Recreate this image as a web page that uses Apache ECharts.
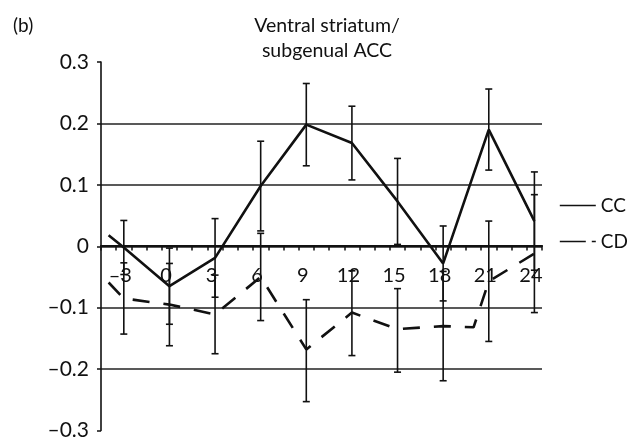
<!DOCTYPE html>
<html>
<head>
<meta charset="utf-8">
<script src="https://cdn.jsdelivr.net/npm/echarts@6/dist/echarts.min.js"></script>
<style>
html,body{margin:0;padding:0;background:#fff;}
#chart{width:628px;height:441px;}
</style>
</head>
<body>
<div id="chart"></div>
<script>
// x positions (weeks) of the plotted line points
const ccX = [-4, -3, 0, 3, 6, 9, 12, 15, 18, 21, 24];
const ccValues = [0.018, -0.002, -0.065, -0.019, 0.098, 0.198, 0.168, 0.073, -0.028, 0.19, 0.041];
const cdX = [-4, -3, 0, 3, 6, 9, 12, 15, 18, 20, 21, 24];
const cdValues = [-0.059, -0.085, -0.095, -0.111, -0.05, -0.168, -0.108, -0.135, -0.13, -0.132, -0.057, -0.012];
// error bars
const barX = [-3, 0, 3, 6, 9, 12, 15, 18, 21, 24];
const ccBarMean = [-0.002, -0.065, -0.019, 0.098, 0.198, 0.168, 0.073, -0.028, 0.19, 0.041];
const ccErr = [0.044, 0.062, 0.064, 0.073, 0.067, 0.06, 0.07, 0.061, 0.066, 0.08];
const cdBarMean = [-0.085, -0.095, -0.111, -0.05, -0.17, -0.109, -0.137, -0.13, -0.057, -0.012];
const cdErr = [0.058, 0.067, 0.064, 0.071, 0.083, 0.069, 0.068, 0.089, 0.098, 0.096];
const xTickLabels = [-3, 0, 3, 6, 9, 12, 15, 18, 21, 24];

const FONT = 'Lato';
const INK = '#111';

function fmt(v) {
  const r = Math.round(v * 10) / 10;
  if (r === 0) return '0';
  const s = Math.abs(r).toFixed(1);
  return r < 0 ? '\u2013' + s : s;
}
function fmtX(v) {
  const r = Math.round(v);
  return r < 0 ? '\u2013' + Math.abs(r) : String(r);
}

const minorTicks = [];
for (let t = -4.5; t <= 24.5; t += 1) minorTicks.push(t);

function errData(xs, means, errs) {
  return xs.map((x, i) => [x, means[i] - errs[i], means[i] + errs[i]]);
}
function renderErr(params, api) {
  const x = api.value(0);
  const lo = api.coord([x, api.value(1)]);
  const hi = api.coord([x, api.value(2)]);
  const w = 3.5;
  const st = { stroke: INK, lineWidth: 1.6 };
  return {
    type: 'group',
    children: [
      { type: 'line', shape: { x1: hi[0], y1: hi[1], x2: lo[0], y2: lo[1] }, style: st },
      { type: 'line', shape: { x1: hi[0] - w, y1: hi[1], x2: hi[0] + w, y2: hi[1] }, style: st },
      { type: 'line', shape: { x1: lo[0] - w, y1: lo[1], x2: lo[0] + w, y2: lo[1] }, style: st }
    ]
  };
}

const GRID_TOP = 62, GRID_BOTTOM = 9;
const plotH = 441 - GRID_TOP - GRID_BOTTOM;

const chart = echarts.init(document.getElementById('chart'), null, { renderer: 'canvas' });
chart.setOption({
  backgroundColor: '#fff',
  animation: false,
  textStyle: { fontFamily: FONT, color: INK },
  title: [
    { text: '(b)', left: 8, top: 11, textStyle: { fontFamily: FONT, fontSize: 19, fontWeight: 'normal', color: INK } },
    { text: 'Ventral striatum/\nsubgenual ACC', left: 322, textAlign: 'center', top: 8,
      textStyle: { fontFamily: FONT, fontSize: 19.5, fontWeight: 'normal', color: INK, lineHeight: 25 } }
  ],
  legend: {
    orient: 'vertical',
    left: 554,
    top: 191,
    itemWidth: 36,
    itemHeight: 14,
    itemGap: 17,
    textStyle: { fontFamily: FONT, fontSize: 19, color: INK },
    data: [
      { name: 'CC', itemStyle: { color: 'transparent', borderColor: 'transparent', borderWidth: 0 }, lineStyle: { width: 1.6, type: 'solid', color: INK } },
      { name: 'CD', itemStyle: { color: 'transparent', borderColor: 'transparent', borderWidth: 0 }, lineStyle: { width: 1.6, type: [26, 6, 5, 40], color: INK } }
    ]
  },
  grid: { left: 101, right: 86, top: GRID_TOP, bottom: GRID_BOTTOM, containLabel: false },
  xAxis: {
    type: 'value',
    min: -4.5,
    max: 24.5,
    offset: -plotH / 2,
    axisLine: { onZero: false, lineStyle: { color: INK, width: 2.2 } },
    axisTick: { show: true, customValues: minorTicks, length: 5, lineStyle: { color: INK, width: 1.5 } },
    axisLabel: { customValues: xTickLabels, formatter: fmtX, fontFamily: FONT, fontSize: 20, color: INK, margin: 20, padding: [0, 7, 0, 0] },
    splitLine: { show: false }
  },
  yAxis: {
    type: 'value',
    min: -0.3,
    max: 0.3,
    interval: 0.1,
    axisLine: { show: true, onZero: false, lineStyle: { color: INK, width: 1.6 } },
    axisTick: { show: true, length: 4, lineStyle: { color: INK, width: 1.5 } },
    axisLabel: { formatter: fmt, fontFamily: FONT, fontSize: 21, color: INK, margin: 12 },
    splitLine: { show: true, showMinLine: false, showMaxLine: false, lineStyle: { color: '#222', width: 1.6 } }
  },
  series: [
    {
      name: 'CC', type: 'line', symbol: 'none',
      data: ccX.map((x, i) => [x, ccValues[i]]),
      lineStyle: { color: INK, width: 2.6 }, itemStyle: { color: INK }, z: 3
    },
    {
      name: 'CD', type: 'line', symbol: 'none',
      data: cdX.map((x, i) => [x, cdValues[i]]),
      lineStyle: { color: INK, width: 2.6, type: [17, 14] }, itemStyle: { color: INK }, z: 3
    },
    {
      name: 'CC error', type: 'custom', renderItem: renderErr,
      data: errData(barX, ccBarMean, ccErr), z: 2, silent: true
    },
    {
      name: 'CD error', type: 'custom', renderItem: renderErr,
      data: errData(barX, cdBarMean, cdErr), z: 2, silent: true
    }
  ]
});
</script>
</body>
</html>
